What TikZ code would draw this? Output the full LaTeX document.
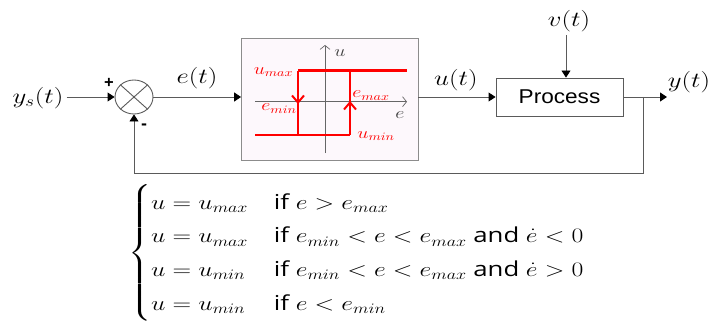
\RequirePackage{fix-cm}
\documentclass[tikz,border=0pt]{standalone}
\usepackage{amsmath}
\usepackage{graphicx}
\usepackage{fontspec}
\setsansfont{Open Sans}
\newfontfamily\arialfont{Liberation Sans}
\usetikzlibrary{arrows.meta,shapes.geometric}
\newcommand{\hs}[1]{\scalebox{1.25}[1]{#1}}
\definecolor{pinkfill}{RGB}{253,248,252}
\definecolor{linegray}{RGB}{90,90,90}
\begin{document}
\begin{tikzpicture}[x=1pt,y=-1pt,
  line/.style={draw=linegray, line width=0.9pt},
  arr/.style={line, -{Triangle[length=7pt,width=9pt,color=black]}},
  lbl/.style={font=\fontsize{21.5}{24}\selectfont, inner sep=3pt, anchor=base},
  hl/.style={text=red, font=\fontsize{16}{18}\selectfont, inner sep=0pt},
  axl/.style={text=black!75, font=\fontsize{16}{18}\selectfont, inner sep=0pt},
  axis/.style={draw=black!60, line width=0.7pt, -{Straight Barb[length=4pt,width=10pt]}},
  hred/.style={draw=red, line width=2.8pt},
  sign/.style={font=\sffamily\bfseries\fontsize{17}{17}\selectfont, inner sep=0pt}
]
\useasboundingbox (0,0) rectangle (710,321);

% input and summing junction
\node[lbl] (ys) at (38,103.5) {\hs{$y_s(t)$}};
\node[line, ellipse, minimum width=38pt, minimum height=34pt, inner sep=0pt] (sum) at (134,97) {};
\draw[line] (sum.north west) -- (sum.south east);
\draw[line] (sum.north east) -- (sum.south west);
\node[sign] (plus) at (109,83) {+};
\node[sign] (minus) at (144,127) {-};
\draw[arr] (ys.east |- sum) -- (sum.west);

% hysteresis block
\node[draw=black!45, line width=0.8pt, fill=pinkfill, minimum width=176.5pt, minimum height=122pt, inner sep=0pt] (hyst) at (329.75,99) {};
\node[lbl] (et) at (197,83.5) {\hs{$e(t)$}};
\draw[arr] (sum.east) -- (sum -| hyst.west);

\coordinate (uaxb) at (325,153);
\coordinate (uaxt) at (325,45);
\coordinate (eaxl) at (255,101.7);
\coordinate (eaxr) at (407,101.7);
\draw[axis] (uaxb) -- (uaxt);
\draw[axis] (eaxl) -- (eaxr);
\node[axl] (ulab) at (340,53) {\hs{$u$}};
\node[axl] (elab) at (400,115) {\hs{$e$}};

\coordinate (tl) at (298,70.7);
\coordinate (tr) at (407,70.7);
\coordinate (bl) at (255,135);
\coordinate (br2) at (350,135);
\coordinate (tm) at (350,70.7);
\coordinate (bm) at (298,135);
\draw[hred] (tl) -- (tr);
\draw[hred] (bl) -- (br2);
\draw[hred] (tl) -- (bm);
\draw[hred] (tm) -- (br2);
\draw[draw=red, line width=2pt] (292,95.5) -- (298,102.5) -- (304,95.5);
\draw[draw=red, line width=2pt] (344,109.5) -- (350,102.5) -- (356,109.5);
\node[hl] (umax) at (273.5,72) {\hs{$u_{max}$}};
\node[hl] (emin) at (279,108.5) {\hs{$e_{min}$}};
\node[hl] (emax) at (371,95.5) {\hs{$e_{max}$}};
\node[hl] (umin) at (376,136) {\hs{$u_{min}$}};

% process
\node[line, minimum width=127pt, minimum height=38pt, inner sep=0pt,
      font=\arialfont\fontsize{20}{24}\selectfont] (proc) at (559.5,97) {\scalebox{1.13}[1]{Process}};
\draw[arr] (hyst.east |- proc) -- (proc.west);
\node[lbl] (ut) at (456,85.5) {\hs{$u(t)$}};
\node[lbl] (vt) at (569,26.5) {\hs{$v(t)$}};
\draw[arr] ([xshift=-3pt]vt.south) -- ([xshift=-3pt]vt.south |- proc.north);

% output and feedback
\coordinate (yend) at (667,97);
\node[lbl] (yt) at (689,87.5) {\hs{$y(t)$}};
\draw[arr] (proc.east) -- (yend);
\coordinate (brn) at (643,97);
\coordinate (fb) at (643,173);
\draw[arr] (brn) -- (fb) -| (sum.south);

% switching law
\node[anchor=west, inner sep=0pt, font=\fontsize{20.6}{24.5}\selectfont] (eq) at (128,253) {\hs{\renewcommand\arraystretch{1.37}$\left\{\begin{array}{@{}l@{\quad}l@{}}
u=u_{max} & \text{\sffamily if } e>e_{max}\\
u=u_{max} & \text{\sffamily if } e_{min}<e<e_{max} \text{\sffamily\ and } \dot{e}<0\\
u=u_{min} & \text{\sffamily if } e_{min}<e<e_{max} \text{\sffamily\ and } \dot{e}>0\\
u=u_{min} & \text{\sffamily if } e<e_{min}
\end{array}\right.$}};
\end{tikzpicture}
\end{document}
